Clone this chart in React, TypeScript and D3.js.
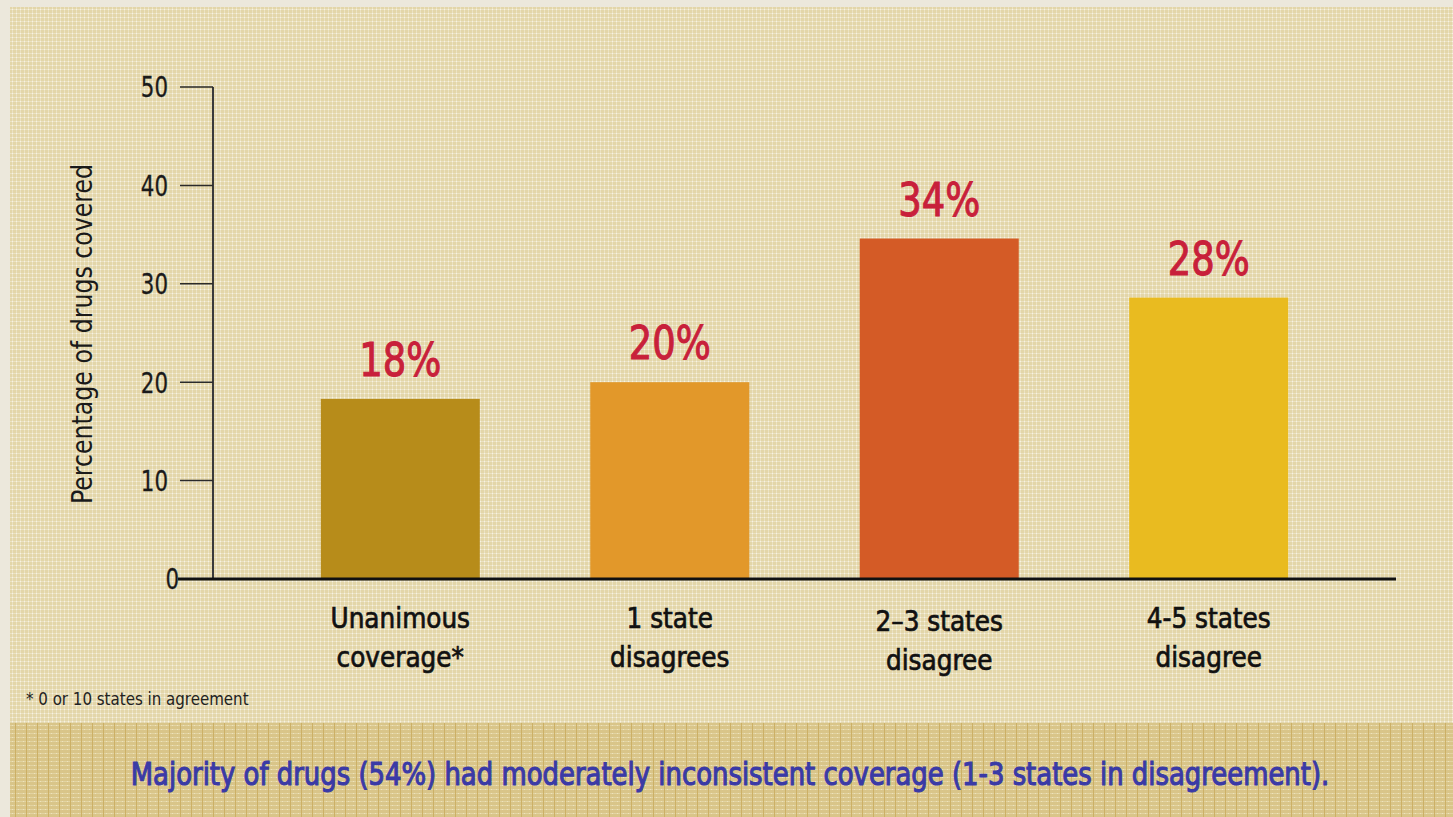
import React from "react";
import * as d3 from "d3";

const categories: string[][] = [
  ["Unanimous", "coverage*"],
  ["1 state", "disagrees"],
  ["2\u20133 states", "disagree"],
  ["4-5 states", "disagree"],
];
const values: number[] = [18.3, 20.0, 34.6, 28.6];
const valueLabels: string[] = ["18%", "20%", "34%", "28%"];
const barColors: string[] = ["#b78c1a", "#e2982a", "#d45b26", "#e9bb20"];
const yTicks: number[] = [0, 10, 20, 30, 40, 50];
const yTitle = "Percentage of drugs covered";
const footnote = "* 0 or 10 states in agreement";
const caption =
  "Majority of drugs (54%) had moderately inconsistent coverage (1-3 states in disagreement).";

const W = 1453;
const H = 817;
const FONT = "'DejaVu Sans Condensed', 'DejaVu Sans', sans-serif";

type TProps = {
  x: number;
  y: number;
  sx: number;
  size: number;
  fill: string;
  anchor?: "start" | "middle" | "end";
  stroke?: number;
  rotate?: number;
  dy?: string;
  children: React.ReactNode;
};

function T({ x, y, sx, size, fill, anchor = "start", stroke = 0, rotate = 0, dy, children }: TProps) {
  return (
    <text
      transform={`translate(${x},${y}) rotate(${rotate}) scale(${sx},1)`}
      textAnchor={anchor}
      fontFamily={FONT}
      fontStretch="condensed"
      fontSize={size}
      fill={fill}
      stroke={stroke ? fill : "none"}
      strokeWidth={stroke}
      dy={dy}
    >
      {children}
    </text>
  );
}

export default function App() {
  const axisX = 213;
  const baseRight = 1396;
  const y = d3.scaleLinear().domain([0, 50]).range([579, 87]);
  const x = d3
    .scaleBand<number>()
    .domain(d3.range(categories.length))
    .range([axisX, baseRight])
    .paddingInner(0.41)
    .paddingOuter(0.4);

  return (
    <svg
      width={W}
      height={H}
      style={{ position: "absolute", left: 0, top: 0, display: "block" }}
    >
      <defs>
        <pattern id="panelPat" width="4" height="4" patternUnits="userSpaceOnUse" x="10" y="7">
          <rect width="4" height="4" fill="#e3d6a9" />
          <rect x="0" y="2" width="4" height="1" fill="#ebe2c3" />
          <rect x="2" y="0" width="1" height="4" fill="#ebe2c3" />
          <rect x="2" y="2" width="1" height="1" fill="#f8f3e2" />
        </pattern>
        <pattern id="bandPat" width="11" height="4" patternUnits="userSpaceOnUse" x="10" y="723">
          <rect width="11" height="4" fill="#d9c589" />
          <rect x="0" y="2" width="11" height="1" fill="#e2d3a1" />
          <rect x="5" y="0" width="1" height="4" fill="#ccb066" />
          <rect x="2" y="2" width="1" height="1" fill="#eee3bc" />
          <rect x="8" y="2" width="1" height="1" fill="#eee3bc" />
        </pattern>
      </defs>
      <rect x={0} y={0} width={W} height={H} fill="#ece8dc" />
      <rect x={10} y={7} width={W - 10} height={H - 7} fill="url(#panelPat)" />
      <rect x={10} y={723} width={W - 10} height={H - 723} fill="url(#bandPat)" />

      {/* y axis */}
      <line x1={axisX} x2={axisX} y1={y(50)} y2={y(0)} stroke="#3a3a3a" strokeWidth={2} />
      {yTicks.map((t) => (
        <g key={t}>
          {t > 0 && (
            <line x1={180} x2={axisX} y1={y(t)} y2={y(t)} stroke="#2a2a2a" strokeWidth={1.5} />
          )}
          <T x={t === 0 ? 179 : 168} y={y(t)} dy="0.36em" anchor="end" size={29} sx={0.82} stroke={0.3} fill="#1a1a1a">
            {t}
          </T>
        </g>
      ))}
      <T x={92} y={(165 + 503) / 2} rotate={-90} anchor="middle" size={28} sx={0.94} fill="#1a1a1a">
        {yTitle}
      </T>

      {/* bars */}
      {values.map((v, i) => {
        const cx = (x(i) as number) + x.bandwidth() / 2;
        return (
          <g key={i}>
            <rect
              x={x(i)}
              y={y(v)}
              width={x.bandwidth()}
              height={y(0) - y(v)}
              fill={barColors[i]}
            />
            <T x={cx} y={y(v) - 23} anchor="middle" size={46} sx={0.89} stroke={1} fill="#c8203a">
              {valueLabels[i]}
            </T>
            {categories[i].map((line, j) => (
              <T
                key={j}
                x={cx}
                y={628 + j * 39 + (i === 2 ? 3 : 0)}
                anchor="middle"
                size={29}
                sx={0.95}
                stroke={0.7}
                fill="#111"
              >
                {line}
              </T>
            ))}
          </g>
        );
      })}

      {/* baseline */}
      <line x1={178} x2={baseRight} y1={y(0)} y2={y(0)} stroke="#111" strokeWidth={3} />

      <T x={26} y={705} size={18} sx={0.93} fill="#222">
        {footnote}
      </T>
      <T x={730} y={785} anchor="middle" size={32} sx={0.9} stroke={1.1} fill="#3a3aa6">
        {caption}
      </T>
    </svg>
  );
}
